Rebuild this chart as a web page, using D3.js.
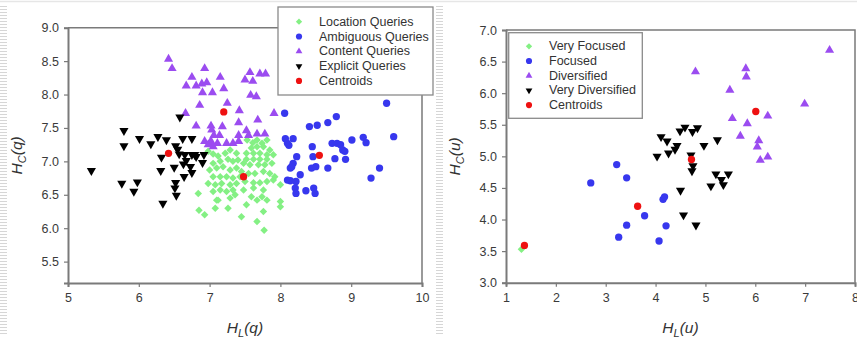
<!DOCTYPE html>
<html>
<head>
<meta charset="utf-8">
<script src="https://cdn.jsdelivr.net/npm/d3@7"></script>
<style>
  body { margin: 0; background: #fff; }
  svg { display: block; font-family: "Liberation Sans", Arial, sans-serif; }
</style>
</head>
<body>
<svg id="chart" width="857" height="338"></svg>
<script>
// ---- left panel: queries ----
const locationQueries = [
  [7.53,7.32],[7.61,7.28],[7.67,7.32],[7.74,7.27],[7.81,7.32],[7.76,7.22],[7.67,7.22],[7.59,7.20],
  [7.85,7.17],[7.81,7.10],[7.90,7.10],[7.71,7.12],[7.62,7.12],[7.52,7.12],[7.52,7.03],[7.62,7.03],
  [7.71,7.03],[7.81,7.03],[7.88,6.97],[7.78,6.95],[7.69,6.95],[7.57,6.95],[7.48,6.97],[6.98,7.15],
  [7.05,7.11],[7.12,7.08],[7.22,7.12],[7.29,7.17],[7.38,7.12],[7.40,7.02],[7.33,7.00],[7.26,7.03],
  [7.15,7.00],[7.05,6.97],[7.00,6.87],[7.10,6.90],[7.19,6.92],[7.29,6.87],[7.38,6.90],[7.45,6.85],
  [7.05,6.77],[7.15,6.77],[7.24,6.77],[7.33,6.75],[7.43,6.77],[7.55,6.82],[7.64,6.82],[7.76,6.85],
  [7.85,6.82],[7.92,6.77],[6.98,6.67],[7.08,6.65],[7.17,6.67],[7.29,6.65],[7.38,6.67],[7.50,6.70],
  [7.62,6.68],[7.71,6.68],[7.81,6.70],[7.90,6.72],[7.05,6.55],[7.15,6.57],[7.24,6.55],[7.33,6.57],
  [7.48,6.57],[7.62,6.60],[7.76,6.57],[8.00,6.65],[6.84,6.52],[7.10,6.42],[7.29,6.45],[7.59,6.47],
  [7.67,6.42],[7.74,6.47],[7.81,6.42],[6.85,6.27],[6.93,6.20],[7.08,6.30],[7.26,6.30],[7.52,6.35],
  [7.76,6.25],[8.00,6.40],[8.00,6.32],[7.45,6.17],[7.67,6.10],[7.77,5.97],[7.12,6.42],[7.36,6.50]
];
const ambiguousQueries = [
  [8.06,7.72],[9.50,7.87],[8.41,7.52],[8.52,7.54],[8.67,7.58],[8.79,7.67],[8.07,7.34],[8.18,7.34],
  [8.12,7.24],[8.10,7.27],[8.23,7.07],[8.45,7.22],[8.46,7.07],[8.73,7.27],[8.80,7.27],[8.85,7.25],
  [8.88,7.17],[8.91,7.15],[9.01,7.32],[9.17,7.36],[9.21,7.28],[9.60,7.37],[9.40,6.90],[9.28,6.75],
  [8.92,7.03],[8.77,7.04],[8.67,6.90],[8.50,6.92],[8.44,6.90],[8.14,6.90],[8.18,6.97],[8.16,6.92],
  [8.10,6.72],[8.14,6.71],[8.22,6.70],[8.28,6.80],[8.21,6.60],[8.22,6.52],[8.36,6.56],[8.47,6.60],
  [8.49,6.52]
];
const contentQueries = [
  [6.42,8.53],[6.47,8.39],[6.66,7.72],[6.67,8.13],[6.75,8.26],[6.81,8.13],[6.89,8.16],[6.96,8.18],
  [6.93,8.39],[6.90,8.03],[7.04,8.03],[6.86,7.84],[6.81,7.53],[7.02,7.53],[7.03,7.47],[7.15,8.26],
  [7.20,8.09],[7.25,7.87],[7.18,7.52],[7.14,7.39],[7.06,7.39],[6.93,7.30],[7.00,7.27],[7.05,7.22],
  [7.11,7.27],[7.24,7.27],[7.33,7.27],[7.41,7.30],[7.42,7.76],[7.41,7.58],[7.41,7.39],[7.52,7.46],
  [7.55,7.39],[7.50,8.22],[7.57,8.33],[7.61,8.20],[7.71,8.31],[7.79,8.31],[7.58,7.99],[7.66,7.97],
  [7.68,7.62],[7.67,7.41],[7.78,7.41],[7.91,7.72],[6.98,7.25],[7.02,7.30]
];
const explicitQueries = [
  [5.33,6.86],[5.79,7.46],[5.79,7.23],[5.76,6.67],[5.98,6.69],[5.93,6.55],[6.01,7.34],[6.17,7.26],
  [6.27,7.37],[6.39,7.32],[6.34,6.37],[6.32,7.06],[6.31,6.86],[6.58,7.66],[6.52,7.23],[6.55,7.18],
  [6.62,7.34],[6.75,7.34],[6.57,7.11],[6.50,6.91],[6.65,7.10],[6.67,7.01],[6.63,6.96],[6.75,7.10],
  [6.79,7.10],[6.73,6.92],[6.64,6.77],[6.52,6.68],[6.51,6.60],[6.53,6.49],[6.92,7.10],[6.90,6.98],
  [6.75,6.83],[6.81,7.07]
];
const queryCentroids = [[6.42,7.12],[7.20,7.74],[7.48,6.77],[8.55,7.09]];

// ---- right panel: users ----
const veryFocused = [[1.31,3.53]];
const focused = [
  [2.70,4.58],[3.22,4.87],[3.42,4.66],[3.42,3.91],[3.26,3.72],[3.78,4.06],[4.07,3.66],[4.15,4.32],
  [4.18,4.36],[4.21,3.90]
];
const diversified = [
  [4.80,6.34],[5.81,6.39],[5.82,6.26],[5.49,6.05],[7.49,6.68],[6.99,5.83],[5.54,5.60],[5.84,5.52],
  [6.25,5.64],[5.70,5.32],[6.07,5.25],[6.04,5.15],[6.25,4.99],[6.10,4.94]
];
const veryDiversified = [
  [4.11,5.31],[4.23,5.24],[4.03,5.00],[4.26,5.05],[4.39,5.11],[4.43,5.17],[4.49,5.40],[4.59,5.46],
  [4.74,5.39],[4.84,5.45],[4.97,5.17],[5.24,5.26],[4.71,5.02],[4.75,4.85],[4.73,4.77],[5.21,4.72],
  [5.11,4.53],[5.32,4.63],[5.36,4.55],[5.46,4.72],[4.50,4.46],[4.56,4.07],[4.81,3.91]
];
const userCentroids = [[1.37,3.59],[3.64,4.21],[4.72,4.95],[6.01,5.71]];

const leftXTicks = [5, 6, 7, 8, 9, 10];
const leftYTicks = [5.5, 6.0, 6.5, 7.0, 7.5, 8.0, 8.5, 9.0];
const rightXTicks = [1, 2, 3, 4, 5, 6, 7, 8];
const rightYTicks = [3.0, 3.5, 4.0, 4.5, 5.0, 5.5, 6.0, 6.5, 7.0];

const GREEN = '#84f084', BLUE = '#3737ee', PURPLE = '#9b4cf0', BLACK = '#000', RED = '#ee1111';
const AXIS = '#7a7a7a';

const svg = d3.select('#chart');

// faint slide artefacts: top rule and hatched side strips
const defs = svg.append('defs');
const pat = defs.append('pattern').attr('id', 'hatch')
  .attr('width', 8).attr('height', 3).attr('patternUnits', 'userSpaceOnUse');
pat.append('rect').attr('width', 8).attr('height', 1).attr('fill', '#d6d6d6');
svg.append('line').attr('x1', 0).attr('x2', 857).attr('y1', 1.5).attr('y2', 1.5)
  .attr('stroke', '#e6e6e6').attr('stroke-width', 1.5);
svg.append('rect').attr('x', 0).attr('y', 5).attr('width', 7).attr('height', 330).attr('fill', 'url(#hatch)');
svg.append('rect').attr('x', 436).attr('y', 5).attr('width', 7).attr('height', 330).attr('fill', 'url(#hatch)');

function marker(kind) {
  if (kind === 'diamond') return d3.symbol(d3.symbolSquare, 28)();
  if (kind === 'circle') return d3.symbol(d3.symbolCircle, 42)();
  return d3.symbol(d3.symbolTriangle, 36)();
}
function rot(kind) {
  if (kind === 'diamond') return 45;
  if (kind === 'down') return 180;
  return 0;
}

function panel(opts) {
  const g = svg.append('g');
  const x = d3.scaleLinear().domain(opts.xDomain).range(opts.xRange);
  const y = d3.scaleLinear().domain(opts.yDomain).range(opts.yRange);

  // frame (top and right)
  g.append('path')
    .attr('d', `M${opts.xRange[0]},${opts.yRange[1]}H${opts.xRange[1]}V${opts.yRange[0]}`)
    .attr('fill', 'none').attr('stroke', AXIS).attr('stroke-width', 1.5);

  const xAxis = g.append('g')
    .attr('transform', `translate(0,${opts.yRange[0]})`)
    .call(d3.axisBottom(x).tickValues(opts.xTicks).tickFormat(d3.format('d')).tickSize(4).tickPadding(6));
  const yAxis = g.append('g')
    .attr('transform', `translate(${opts.xRange[0]},0)`)
    .call(d3.axisLeft(y).tickValues(opts.yTicks).tickFormat(d3.format('.1f')).tickSize(4).tickPadding(5));
  [xAxis, yAxis].forEach(a => {
    a.select('.domain').attr('stroke', AXIS).attr('stroke-width', 2);
    a.selectAll('.tick line').attr('stroke', AXIS).attr('stroke-width', 1.2);
    a.selectAll('.tick text').attr('fill', '#3a3a3a').style('font-size', '12.5px')
      .style('font-family', '"Liberation Sans", Arial, sans-serif');
  });

  opts.series.forEach(s => {
    g.append('g').selectAll('path')
      .data(s.data)
      .join('path')
      .attr('d', marker(s.shape))
      .attr('transform', d => `translate(${x(d[0])},${y(d[1])}) rotate(${rot(s.shape)})`)
      .attr('fill', s.color);
  });

  // axis titles
  const xt = g.append('text')
    .attr('x', (opts.xRange[0] + opts.xRange[1]) / 2 + opts.xTitleDx)
    .attr('y', 333)
    .attr('text-anchor', 'middle')
    .style('font-size', '15.5px').style('font-style', 'italic').attr('fill', '#333');
  xt.append('tspan').text('H');
  xt.append('tspan').text('L').attr('dy', 4).style('font-size', '11px');
  xt.append('tspan').text(`(${opts.varName})`).attr('dy', -4);

  const yt = g.append('text')
    .attr('transform', `translate(${opts.yTitleX},${(opts.yRange[0] + opts.yRange[1]) / 2}) rotate(-90)`)
    .attr('text-anchor', 'middle')
    .style('font-size', '15.5px').style('font-style', 'italic').attr('fill', '#333');
  yt.append('tspan').text('H');
  yt.append('tspan').text('C').attr('dy', 4).style('font-size', '11px');
  yt.append('tspan').text(`(${opts.varName})`).attr('dy', -4);

  // legend
  const lg = g.append('g');
  const b = opts.legendBox;
  lg.append('rect').attr('x', b[0]).attr('y', b[1]).attr('width', b[2]).attr('height', b[3])
    .attr('fill', '#fff').attr('stroke', '#8a8a8a').attr('stroke-width', 1.3);
  opts.series.forEach((s, i) => {
    const cy = opts.legendRow0 + i * opts.legendStep;
    lg.append('path')
      .attr('d', d3.symbol(s.shape === 'circle' ? d3.symbolCircle : s.shape === 'diamond' ? d3.symbolSquare : d3.symbolTriangle,
        s.shape === 'circle' ? 30 : 20)())
      .attr('transform', `translate(${opts.legendMarkerX},${cy}) rotate(${rot(s.shape)})`)
      .attr('fill', s.color);
    lg.append('text')
      .attr('x', opts.legendTextX).attr('y', cy + 4)
      .style('font-size', '12.5px').attr('fill', '#333')
      .text(s.name);
  });
}

panel({
  xDomain: [5, 10], xRange: [68, 422],
  yDomain: [5.18, 9.0], yRange: [283, 27.7],
  xTicks: leftXTicks, yTicks: leftYTicks,
  varName: 'q', xTitleDx: 0, yTitleX: 22,
  legendBox: [278, 7, 155, 88], legendMarkerX: 299, legendTextX: 319, legendRow0: 21.7, legendStep: 14.8,
  series: [
    { name: 'Location Queries', data: locationQueries, shape: 'diamond', color: GREEN },
    { name: 'Ambiguous Queries', data: ambiguousQueries, shape: 'circle', color: BLUE },
    { name: 'Content Queries', data: contentQueries, shape: 'up', color: PURPLE },
    { name: 'Explicit Queries', data: explicitQueries, shape: 'down', color: BLACK },
    { name: 'Centroids', data: queryCentroids, shape: 'circle', color: RED }
  ]
});

panel({
  xDomain: [1, 8], xRange: [506, 855],
  yDomain: [3, 7], yRange: [282.7, 30],
  xTicks: rightXTicks, yTicks: rightYTicks,
  varName: 'u', xTitleDx: 0, yTitleX: 460,
  legendBox: [508.7, 32.7, 133.6, 85.6], legendMarkerX: 529, legendTextX: 549, legendRow0: 46.3, legendStep: 14.7,
  series: [
    { name: 'Very Focused', data: veryFocused, shape: 'diamond', color: GREEN },
    { name: 'Focused', data: focused, shape: 'circle', color: BLUE },
    { name: 'Diversified', data: diversified, shape: 'up', color: PURPLE },
    { name: 'Very Diversified', data: veryDiversified, shape: 'down', color: BLACK },
    { name: 'Centroids', data: userCentroids, shape: 'circle', color: RED }
  ]
});
</script>
</body>
</html>
